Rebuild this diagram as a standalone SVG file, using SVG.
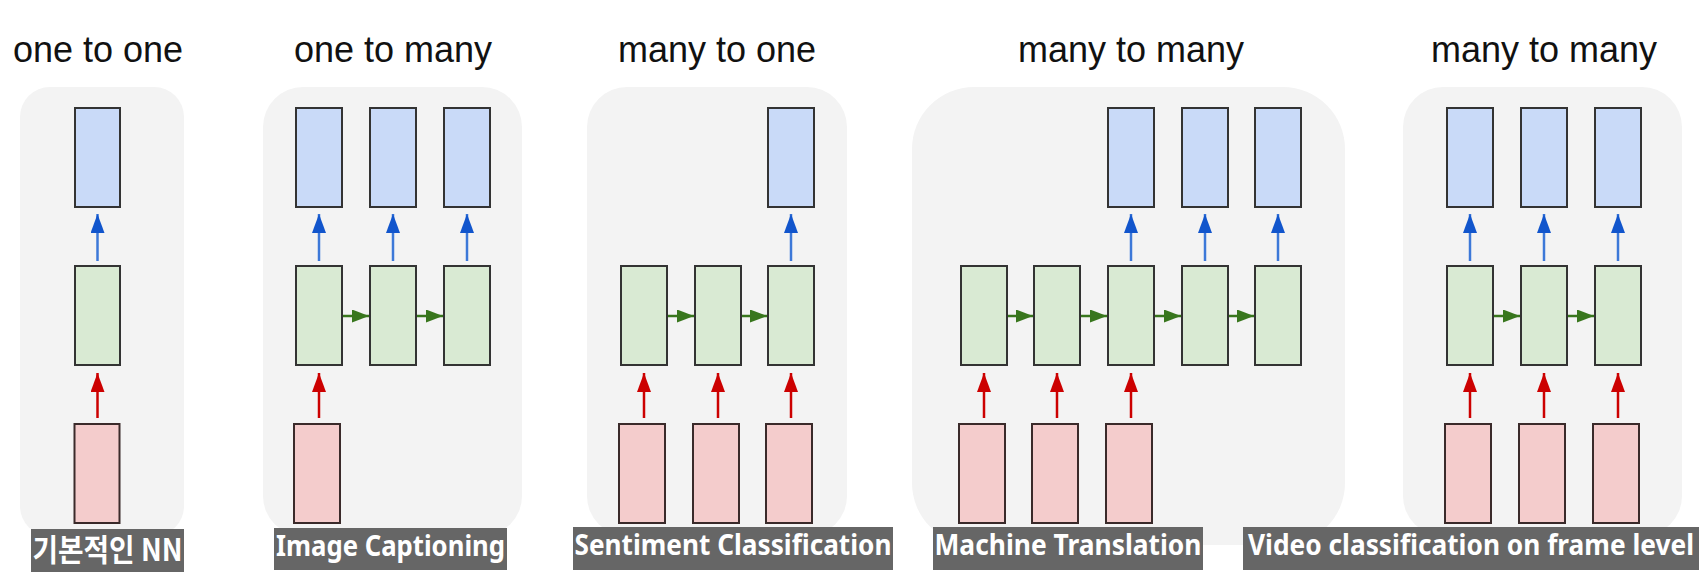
<svg xmlns="http://www.w3.org/2000/svg" width="1704" height="573" viewBox="0 0 1704 573">
<style>
.bg{fill:#f3f3f3}
.title{font-family:"Liberation Sans",Arial,sans-serif;font-size:36px;fill:#111;text-anchor:middle}
.b{fill:#c9daf8;stroke:#333;stroke-width:2}
.g{fill:#d9ead3;stroke:#333;stroke-width:2}
.p{fill:#f4cccc;stroke:#3a2a2a;stroke-width:2}
.lblbox{fill:#666666}
.lbl{font-family:"Noto Sans","Open Sans","Noto Sans CJK KR",sans-serif;font-weight:700;font-size:29px;fill:#fff;text-anchor:middle}
.au{stroke:#3c78d8;stroke-width:2.5;fill:none;marker-end:url(#hb)}
.ar{stroke:#cc0000;stroke-width:2.5;fill:none;marker-end:url(#hr)}
.ag{stroke:#38761d;stroke-width:2.5;fill:none;marker-end:url(#hg)}
</style>
<defs>
<marker id="hb" markerUnits="userSpaceOnUse" markerWidth="19" markerHeight="14" viewBox="0 0 19 14" refX="19" refY="7" orient="auto"><path d="M0,0 L19,7 L0,14 z" fill="#1155cc"/></marker>
<marker id="hr" markerUnits="userSpaceOnUse" markerWidth="19" markerHeight="14" viewBox="0 0 19 14" refX="19" refY="7" orient="auto"><path d="M0,0 L19,7 L0,14 z" fill="#cc0000"/></marker>
<marker id="hg" markerUnits="userSpaceOnUse" markerWidth="17" markerHeight="13" viewBox="0 0 17 13" refX="17" refY="6.5" orient="auto"><path d="M0,0 L17,6.5 L0,13 z" fill="#38761d"/></marker>
</defs>
<rect width="1704" height="573" fill="#ffffff"/>

<g id="panel1">
<rect class="bg" x="20" y="87" width="164" height="449" rx="30"/>
<text class="title" x="98" y="62">one to one</text>
</g>
<g id="panel2">
<rect class="bg" x="263" y="87" width="259" height="449" rx="40"/>
<text class="title" x="393" y="62">one to many</text>
</g>
<g id="panel3">
<rect class="bg" x="587" y="87" width="260" height="449" rx="40"/>
<text class="title" x="717" y="62">many to one</text>
</g>
<g id="panel4">
<rect class="bg" x="912" y="87" width="433" height="458" rx="62"/>
<text class="title" x="1131" y="62">many to many</text>
</g>
<g id="panel5">
<rect class="bg" x="1403" y="87" width="279" height="449" rx="40"/>
<text class="title" x="1544" y="62">many to many</text>
</g>

<g id="connectors">
<line class="au" x1="97.5" y1="261" x2="97.5" y2="214"/>
<line class="ar" x1="97.5" y1="418" x2="97.5" y2="373"/>
<line class="au" x1="319" y1="261" x2="319" y2="214"/>
<line class="au" x1="393" y1="261" x2="393" y2="214"/>
<line class="au" x1="467" y1="261" x2="467" y2="214"/>
<line class="ar" x1="319" y1="418" x2="319" y2="373"/>
<line class="ag" x1="343" y1="316" x2="369" y2="316"/>
<line class="ag" x1="417" y1="316" x2="443" y2="316"/>
<line class="au" x1="791" y1="261" x2="791" y2="214"/>
<line class="ar" x1="644" y1="418" x2="644" y2="373"/>
<line class="ar" x1="718" y1="418" x2="718" y2="373"/>
<line class="ar" x1="791" y1="418" x2="791" y2="373"/>
<line class="ag" x1="668" y1="316" x2="694" y2="316"/>
<line class="ag" x1="742" y1="316" x2="767" y2="316"/>
<line class="au" x1="1131" y1="261" x2="1131" y2="214"/>
<line class="au" x1="1205" y1="261" x2="1205" y2="214"/>
<line class="au" x1="1278" y1="261" x2="1278" y2="214"/>
<line class="ar" x1="984" y1="418" x2="984" y2="373"/>
<line class="ar" x1="1057" y1="418" x2="1057" y2="373"/>
<line class="ar" x1="1131" y1="418" x2="1131" y2="373"/>
<line class="ag" x1="1008" y1="316" x2="1033" y2="316"/>
<line class="ag" x1="1081" y1="316" x2="1107" y2="316"/>
<line class="ag" x1="1155" y1="316" x2="1181" y2="316"/>
<line class="ag" x1="1229" y1="316" x2="1254" y2="316"/>
<line class="au" x1="1470" y1="261" x2="1470" y2="214"/>
<line class="au" x1="1544" y1="261" x2="1544" y2="214"/>
<line class="au" x1="1618" y1="261" x2="1618" y2="214"/>
<line class="ar" x1="1470" y1="418" x2="1470" y2="373"/>
<line class="ar" x1="1544" y1="418" x2="1544" y2="373"/>
<line class="ar" x1="1618" y1="418" x2="1618" y2="373"/>
<line class="ag" x1="1494" y1="316" x2="1520" y2="316"/>
<line class="ag" x1="1568" y1="316" x2="1594" y2="316"/>
</g>

<g id="p1-out"><rect class="b" x="75" y="108" width="45" height="99"/></g>
<g id="p1-hid"><rect class="g" x="75" y="266" width="45" height="99"/></g>
<g id="p1-in"><rect class="p" x="74.5" y="424" width="45" height="99"/></g>

<g id="p2-out1"><rect class="b" x="296" y="108" width="46" height="99"/></g>
<g id="p2-out2"><rect class="b" x="370" y="108" width="46" height="99"/></g>
<g id="p2-out3"><rect class="b" x="444" y="108" width="46" height="99"/></g>
<g id="p2-hid1"><rect class="g" x="296" y="266" width="46" height="99"/></g>
<g id="p2-hid2"><rect class="g" x="370" y="266" width="46" height="99"/></g>
<g id="p2-hid3"><rect class="g" x="444" y="266" width="46" height="99"/></g>
<g id="p2-in1"><rect class="p" x="294" y="424" width="46" height="99"/></g>

<g id="p3-out3"><rect class="b" x="768" y="108" width="46" height="99"/></g>
<g id="p3-hid1"><rect class="g" x="621" y="266" width="46" height="99"/></g>
<g id="p3-hid2"><rect class="g" x="695" y="266" width="46" height="99"/></g>
<g id="p3-hid3"><rect class="g" x="768" y="266" width="46" height="99"/></g>
<g id="p3-in1"><rect class="p" x="619" y="424" width="46" height="99"/></g>
<g id="p3-in2"><rect class="p" x="693" y="424" width="46" height="99"/></g>
<g id="p3-in3"><rect class="p" x="766" y="424" width="46" height="99"/></g>

<g id="p4-out3"><rect class="b" x="1108" y="108" width="46" height="99"/></g>
<g id="p4-out4"><rect class="b" x="1182" y="108" width="46" height="99"/></g>
<g id="p4-out5"><rect class="b" x="1255" y="108" width="46" height="99"/></g>
<g id="p4-hid1"><rect class="g" x="961" y="266" width="46" height="99"/></g>
<g id="p4-hid2"><rect class="g" x="1034" y="266" width="46" height="99"/></g>
<g id="p4-hid3"><rect class="g" x="1108" y="266" width="46" height="99"/></g>
<g id="p4-hid4"><rect class="g" x="1182" y="266" width="46" height="99"/></g>
<g id="p4-hid5"><rect class="g" x="1255" y="266" width="46" height="99"/></g>
<g id="p4-in1"><rect class="p" x="959" y="424" width="46" height="99"/></g>
<g id="p4-in2"><rect class="p" x="1032" y="424" width="46" height="99"/></g>
<g id="p4-in3"><rect class="p" x="1106" y="424" width="46" height="99"/></g>

<g id="p5-out1"><rect class="b" x="1447" y="108" width="46" height="99"/></g>
<g id="p5-out2"><rect class="b" x="1521" y="108" width="46" height="99"/></g>
<g id="p5-out3"><rect class="b" x="1595" y="108" width="46" height="99"/></g>
<g id="p5-hid1"><rect class="g" x="1447" y="266" width="46" height="99"/></g>
<g id="p5-hid2"><rect class="g" x="1521" y="266" width="46" height="99"/></g>
<g id="p5-hid3"><rect class="g" x="1595" y="266" width="46" height="99"/></g>
<g id="p5-in1"><rect class="p" x="1445" y="424" width="46" height="99"/></g>
<g id="p5-in2"><rect class="p" x="1519" y="424" width="46" height="99"/></g>
<g id="p5-in3"><rect class="p" x="1593" y="424" width="46" height="99"/></g>

<g id="label1">
<rect class="lblbox" x="31" y="529" width="153" height="43"/>
<text class="lbl" x="107.5" y="561" style="font-family:'Noto Sans CJK KR','Noto Sans',sans-serif;font-size:31px" textLength="150" lengthAdjust="spacingAndGlyphs">기본적인 NN</text>
</g>
<g id="label2">
<rect class="lblbox" x="274" y="528" width="233" height="42"/>
<text class="lbl" x="390.5" y="556" textLength="229" lengthAdjust="spacingAndGlyphs">Image Captioning</text>
</g>
<g id="label3">
<rect class="lblbox" x="573" y="527" width="320" height="43"/>
<text class="lbl" x="733" y="555" textLength="317" lengthAdjust="spacingAndGlyphs">Sentiment Classification</text>
</g>
<g id="label4">
<rect class="lblbox" x="933" y="527" width="270" height="43"/>
<text class="lbl" x="1068" y="555" textLength="267" lengthAdjust="spacingAndGlyphs">Machine Translation</text>
</g>
<g id="label5">
<rect class="lblbox" x="1243" y="527" width="456" height="43"/>
<text class="lbl" x="1471" y="555" textLength="446" lengthAdjust="spacingAndGlyphs">Video classification on frame level</text>
</g>
</svg>
